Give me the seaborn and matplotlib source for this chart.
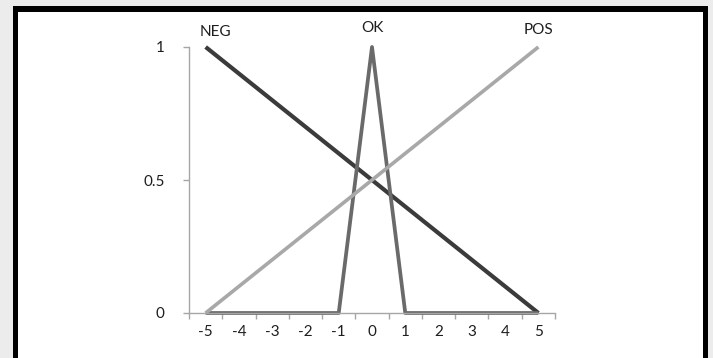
import matplotlib
matplotlib.use("Agg")
import matplotlib.pyplot as plt
from matplotlib.patches import Rectangle
import pandas as pd
import seaborn as sns

# Membership functions of the error variable
x_values = [-5, -4, -3, -2, -1, 0, 1, 2, 3, 4, 5]
neg = [1.0, 0.9, 0.8, 0.7, 0.6, 0.5, 0.4, 0.3, 0.2, 0.1, 0.0]
ok = [0, 0, 0, 0, 0, 1, 0, 0, 0, 0, 0]
pos = [0.0, 0.1, 0.2, 0.3, 0.4, 0.5, 0.6, 0.7, 0.8, 0.9, 1.0]
series_names = ["NEG", "OK", "POS"]
x_tick_labels = ["-5", "-4", "-3", "-2", "-1", "0", "1", "2", "3", "4", "5"]
y_ticks = [0, 0.5, 1]
y_tick_labels = ["0", "0.5", "1"]

df = pd.DataFrame({
    "x": x_values * 3,
    "mu": neg + ok + pos,
    "set": [n for n in series_names for _ in x_values],
})

sns.set_theme(style="white")
plt.rcParams["font.family"] = ["Lato", "DejaVu Sans"]

W, H = 713, 358
fig = plt.figure(figsize=(W / 100, H / 100), dpi=100, facecolor="#ececec")

def px_rect(x0, y0_top, x1, y1_top, **kw):
    # rectangle given in pixel coords measured from the top-left corner
    return Rectangle((x0 / W, 1 - y1_top / H), (x1 - x0) / W, (y1_top - y0_top) / H,
                     transform=fig.transFigure, **kw)

fig.patches.append(px_rect(12.5, 5.8, 708.3, H + 10, facecolor="black", edgecolor="none", zorder=-20))
fig.patches.append(px_rect(17.7, 11.7, 703.3, H + 10, facecolor="white", edgecolor="none", zorder=-10))

ax = fig.add_axes([189 / W, 1 - 313 / H, (555 - 189) / W, (313 - 47) / H])
ax.set_facecolor("none")
ax.set_zorder(5)

palette = {"NEG": "#3b3b3b", "OK": "#6a6a6a", "POS": "#a8a8a8"}
widths = {"NEG": 3.0, "OK": 2.7, "POS": 2.6}
sns.lineplot(data=df, x="x", y="mu", hue="set", hue_order=series_names,
             palette=palette, legend=False, ax=ax, sort=False, estimator=None)
for line, name in zip(ax.get_lines(), series_names):
    line.set_linewidth(widths[name])
    line.set_solid_capstyle("butt")
    line.set_clip_on(False)

ax.set_xlim(-5.5, 5.5)
ax.set_ylim(0, 1)
ax.set_xlabel("")
ax.set_ylabel("")

ax.set_xticks(x_values)
ax.set_xticklabels(x_tick_labels)
ax.set_xticks([v + 0.5 for v in [-6] + x_values], minor=True)
ax.set_yticks(y_ticks)
ax.set_yticklabels(y_tick_labels)

axis_color = "#a6a6a6"
for side in ["top", "right"]:
    ax.spines[side].set_visible(False)
for side in ["left", "bottom"]:
    ax.spines[side].set_color(axis_color)
    ax.spines[side].set_linewidth(1.0)

ax.tick_params(axis="x", which="both", bottom=True)
ax.tick_params(axis="y", which="both", left=True)
ax.tick_params(axis="x", which="major", length=0, pad=9, labelsize=11, labelcolor="#1e1e1e")
ax.tick_params(axis="x", which="minor", length=4.5, width=1, color=axis_color, direction="out")
ax.tick_params(axis="y", which="major", length=4.5, width=1, color=axis_color, direction="out",
               pad=13, labelsize=11, labelcolor="#1e1e1e")

# Set names above the peak of each function
label_pos = {"NEG": (-4.7, 1.055), "OK": (0, 1.073), "POS": (5, 1.063)}
for name in series_names:
    xp, yp = label_pos[name]
    ax.text(xp, yp, name, transform=ax.get_xaxis_transform(), ha="center", va="center",
            fontsize=11, color="#1e1e1e")

fig.savefig("out.png", dpi=100, facecolor=fig.get_facecolor())
